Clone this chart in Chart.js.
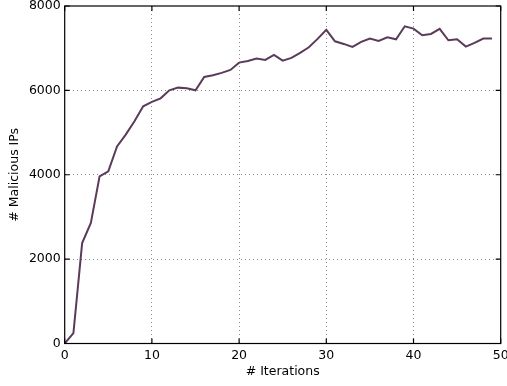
<!DOCTYPE html>
<html><head><meta charset="utf-8">
<script src="https://cdn.jsdelivr.net/npm/chart.js@4"></script>
<style>html,body{margin:0;padding:0;background:#fff}#wrap{width:507px;height:386px;position:relative}</style>
</head><body><div id="wrap"><canvas id="c" width="507" height="386"></canvas></div>
<script>
const iterations = [0,1,2,3,4,5,6,7,8,9,10,11,12,13,14,15,16,17,18,19,20,21,22,23,24,25,26,27,28,29,30,31,32,33,34,35,36,37,38,39,40,41,42,43,44,45,46,47,48,49];
const maliciousIPs = [0,247,2381,2856,3961,4080,4673,4950,5266,5622,5726,5812,6001,6065,6049,6001,6319,6357,6414,6485,6658,6698,6753,6722,6841,6706,6770,6888,7021,7220,7434,7164,7101,7030,7149,7228,7172,7259,7211,7519,7464,7306,7338,7457,7188,7211,7038,7125,7228,7228];
const xTicks = [0,10,20,30,40,50];
const yTicks = [0,2000,4000,6000,8000];
const xTitle = '# Iterations';
const yTitle = '# Malicious IPs';

const FONT = {family:'"DejaVu Sans", sans-serif', size:12.5};

const frame = {
  id:'frame',
  afterDatasetsDraw(chart){
    const {ctx, chartArea:{left,right,top,bottom}, scales:{x,y}} = chart;
    ctx.save();
    ctx.strokeStyle = '#000';
    ctx.lineWidth = 1.2;
    ctx.strokeRect(left, top, right-left, bottom-top);
    const L = 5;
    ctx.beginPath();
    xTicks.forEach(v => {
      const px = x.getPixelForValue(v);
      ctx.moveTo(px, bottom); ctx.lineTo(px, bottom-L);
      ctx.moveTo(px, top); ctx.lineTo(px, top+L);
    });
    yTicks.forEach(v => {
      const py = y.getPixelForValue(v);
      ctx.moveTo(left, py); ctx.lineTo(left+L, py);
      ctx.moveTo(right, py); ctx.lineTo(right-L, py);
    });
    ctx.stroke();
    ctx.restore();
  }
};

const gridColor = (edge) => (c) => (c.tick && edge.includes(c.tick.value)) ? 'rgba(0,0,0,0)' : 'rgba(0,0,0,0.45)';

new Chart(document.getElementById('c'), {
  type:'line',
  data:{
    labels: iterations,
    datasets:[{
      data: iterations.map((it,i)=>({x:it, y:maliciousIPs[i]})),
      borderColor:'#5b3a5a',
      borderWidth:2,
      pointRadius:0,
      tension:0,
      fill:false
    }]
  },
  options:{
    responsive:false,
    animation:false,
    events:[],
    layout:{padding:{left:0,right:6.3,top:6,bottom:0}},
    plugins:{legend:{display:false}, tooltip:{enabled:false}},
    scales:{
      x:{
        type:'linear', min:0, max:50,
        afterBuildTicks:(s)=>{ s.ticks = xTicks.map(v=>({value:v})); },
        afterFit:(s)=>{ s.height = 42.5; s.paddingLeft = 0; s.paddingRight = 0; },
        ticks:{font:FONT, color:'#000', padding:5, maxRotation:0, autoSkip:false, callback:(v)=>String(v)},
        grid:{color:gridColor([0,50]), lineWidth:1, drawTicks:false},
        border:{display:false, dash:[1,3]},
        title:{display:true, text:xTitle, font:FONT, color:'#000', padding:{top:0,bottom:7}}
      },
      y:{
        type:'linear', min:0, max:8000,
        afterBuildTicks:(s)=>{ s.ticks = yTicks.map(v=>({value:v})); },
        afterFit:(s)=>{ s.width = 64.7; s.paddingTop = 0; s.paddingBottom = 0; },
        ticks:{font:FONT, color:'#000', padding:4, autoSkip:false, callback:(v)=>String(v)},
        grid:{color:gridColor([0,8000]), lineWidth:1, drawTicks:false},
        border:{display:false, dash:[1,3]},
        title:{display:true, text:yTitle, font:FONT, color:'#000', padding:{top:7,bottom:0}}
      }
    }
  },
  plugins:[frame]
});
</script>
</body></html>
